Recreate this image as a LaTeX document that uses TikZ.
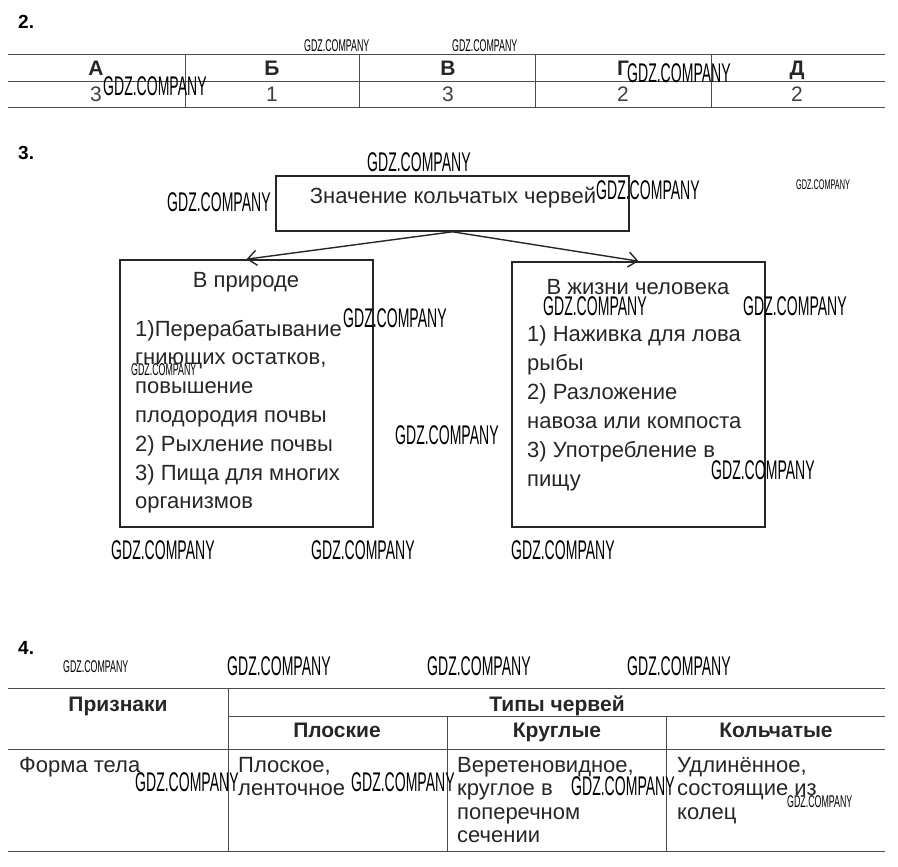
\documentclass[tikz,border=0pt]{standalone}
\usepackage{fontspec}
\setmainfont{Liberation Sans}
\newfontfamily\wmfont[FakeStretch=0.52]{Liberation Sans}
\usetikzlibrary{arrows.meta}

\begin{document}
\begin{tikzpicture}[x=1pt, y=-1pt,
    box/.style={draw, line width=1.6pt, black!85, inner sep=0pt},
    tline/.style={line width=0.9pt, black!70},
    txt/.style={font=\fontsize{22}{26}\selectfont, text=black!85, inner sep=0pt, anchor=base west},
    hdr/.style={font=\bfseries\fontsize{21}{25}\selectfont, text=black!85, inner sep=0pt, anchor=base},
    val/.style={font=\fontsize{21}{25}\selectfont, text=black!75, inner sep=0pt, anchor=base},
    num/.style={font=\bfseries\fontsize{19}{22}\selectfont, inner sep=0pt, anchor=base west},
    wm/.style={font=\wmfont\fontsize{27}{27}\selectfont, inner sep=0pt, anchor=west},
    wms/.style={font=\wmfont\fontsize{17}{17}\selectfont, inner sep=0pt, anchor=west},
    wmt/.style={font=\wmfont\fontsize{14}{14}\selectfont, inner sep=0pt, anchor=west},
    arr/.style={-{Straight Barb[length=9pt, width=15pt]}, line width=1.4pt, black!85},
]
    % параметры
    \def\L{8}      % левый край таблиц
    \def\R{885}    % правый край таблиц

    \useasboundingbox (0,0) rectangle (898,867);

    % номера заданий
    \node[num] (n2) at (18,29) {2.};
    \node[num] (n3) at (18,159) {3.};
    \node[num] (n4) at (18,654) {4.};

    % таблица задания 2
    \draw[tline] (\L,54) -- (\R,54) (\L,81) -- (\R,81) (\L,107) -- (\R,107);
    \foreach \x in {185,359,535,711}
        \draw[tline] (\x,54) -- (\x,107);
    \foreach \x/\l/\v [count=\i] in {96/А/3, 272/Б/1, 448/В/3, 623/Г/2, 797/Д/2} {
        \node[hdr] (bukva\i) at (\x,76) {\l};
        \node[val] (otvet\i) at (\x,102) {\v};
    }

    % схема задания 3
    \node[box, minimum width=353pt, minimum height=55pt] (znach) at (452.5,203.5) {};
    \node[txt, anchor=base] (znachT) at (453,203) {Значение кольчатых червей};

    \node[box, minimum width=253pt, minimum height=267pt] (priroda) at (246.5,393.5) {};
    \node[box, minimum width=253pt, minimum height=265pt] (chelovek) at (638.5,394.5) {};

    \draw[arr] (znach.south) -- (priroda.north);
    \draw[arr] (znach.south) -- (chelovek.north);

    \node[txt, anchor=base] (prirodaT) at (246,287) {В природе};
    \foreach \t [count=\i] in {1)Перерабатывание, {гниющих остатков,}, повышение,
        плодородия почвы, 2) Рыхление почвы, 3) Пища для многих, организмов}
        \node[txt] (pr\i) at (135,{336+28.8*(\i-1)}) {\t};

    \node[txt, anchor=base] (chelovekT) at (638,294) {В жизни человека};
    \foreach \t [count=\i] in {1) Наживка для лова, рыбы, 2) Разложение,
        навоза или компоста, 3) Употребление в, пищу}
        \node[txt] (ch\i) at (527,{341+29*(\i-1)}) {\t};

    % таблица задания 4
    \draw[tline] (\L,688) -- (\R,688) (228,716) -- (\R,716)
        (\L,749) -- (\R,749) (\L,851) -- (\R,851);
    \draw[tline] (228,688) -- (228,851);
    \foreach \x in {447,666}
        \draw[tline] (\x,716) -- (\x,851);

    \node[hdr] (priznaki) at (118,711) {Признаки};
    \node[hdr] (tipy) at (557,711) {Типы червей};
    \node[hdr] (ploskie) at (337,737) {Плоские};
    \node[hdr] (kruglye) at (557,737) {Круглые};
    \node[hdr] (kolchatye) at (776,737) {Кольчатые};

    \node[txt] (forma) at (19,772) {Форма тела};
    \foreach \t [count=\i] in {{Плоское,}, ленточное}
        \node[txt] (pl\i) at (238,{772+23.5*(\i-1)}) {\t};
    \foreach \t [count=\i] in {{Веретеновидное,}, круглое в, поперечном, сечении}
        \node[txt] (kr\i) at (457,{772+23.5*(\i-1)}) {\t};
    \foreach \t [count=\i] in {{Удлинённое,}, состоящие из, колец}
        \node[txt] (ko\i) at (677,{772+23.5*(\i-1)}) {\t};

    % водяные знаки
    \foreach \x/\y [count=\i] in {103/86, 627/73, 367/162, 167/202, 596/190,
        543/306, 743/306, 343/318, 395/435, 711/470, 111/550, 311/550, 511/550,
        227/666, 427/666, 627/666, 135/782, 351/782, 571/786}
        \node[wm] (wm\i) at (\x,\y) {GDZ.COMPANY};
    \foreach \x/\y [count=\i] in {304/46, 452/46, 131/370, 63/667, 787/802}
        \node[wms] (wms\i) at (\x,\y) {GDZ.COMPANY};
    \node[wmt] (wmt1) at (796,185) {GDZ.COMPANY};
\end{tikzpicture}
\end{document}
